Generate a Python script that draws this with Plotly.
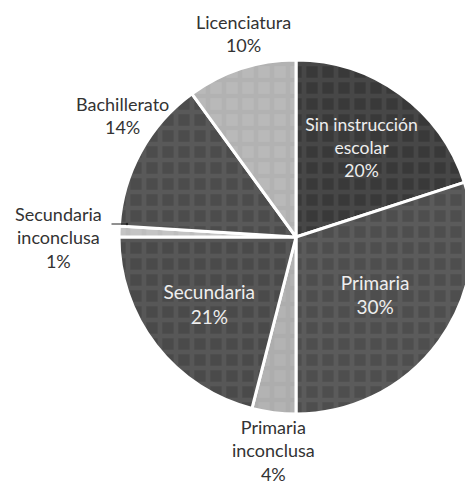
# ---------------- data ----------------
import plotly.graph_objects as go

labels = ['Sin instrucción escolar', 'Primaria', 'Primaria inconclusa', 'Secundaria',
          'Secundaria inconclusa', 'Bachillerato', 'Licenciatura']
values = [20, 30, 4, 21, 1, 14, 10]
inside_text = ['Sin instrucción<br>escolar<br>20%', 'Primaria<br>30%', '',
               'Secundaria<br>21%', '', '', '']
# outside labels: text and centre (px from top-left of the figure)
outside_text = ['Primaria<br>inconclusa<br>4%', 'Secundaria<br>inconclusa<br>1%',
                'Bachillerato<br>14%', 'Licenciatura<br>10%']
outside_px = [(265, 442), (50, 229), (114, 107), (235, 25)]

bg_colors = ['#393939', '#4e4e4e', '#b3b3b3', '#4a4a4a', '#c4c4c4', '#4c4c4c', '#b9b9b9']
fg_colors = ['#555555', '#686868', '#a7a7a7', '#636363', '#b8b8b8', '#666666', '#ababab']

W, H = 465, 478  # page body has an 8px margin

# ---------------- figure ----------------
fig = go.Figure(go.Pie(
    labels=labels, values=values, text=inside_text, textinfo='text',
    textposition='inside', sort=False, direction='clockwise', rotation=0,
    insidetextorientation='horizontal', automargin=False,
    textfont=dict(family='Lato', size=19, color='#eeeeee'),
    marker=dict(colors=bg_colors, line=dict(color='white', width=3),
                pattern=dict(shape='+', fgcolor=fg_colors, bgcolor=bg_colors,
                             size=16, solidity=0.5, fillmode='overlay')),
    domain=dict(x=[111/W, 1], y=[71/H, 427/H]),
    showlegend=False, hoverinfo='label+percent',
))

for txt, (px, py) in zip(outside_text, outside_px):
    fig.add_annotation(text=txt, x=px/W, y=1-py/H, xref='paper', yref='paper',
                       xanchor='center', yanchor='middle', showarrow=False,
                       font=dict(family='Lato', size=18, color='#333333'))

# small leader line for "Secundaria inconclusa"
fig.add_annotation(text='', x=119/W, y=1-216/H, ax=-17, ay=0, xref='paper', yref='paper',
                   showarrow=True, arrowhead=6, arrowsize=0.6, arrowwidth=1, arrowcolor='#222222')

fig.update_layout(width=W, height=H, margin=dict(l=0, r=0, t=0, b=0),
                  paper_bgcolor='white', plot_bgcolor='white')
fig.write_html("out.html")
